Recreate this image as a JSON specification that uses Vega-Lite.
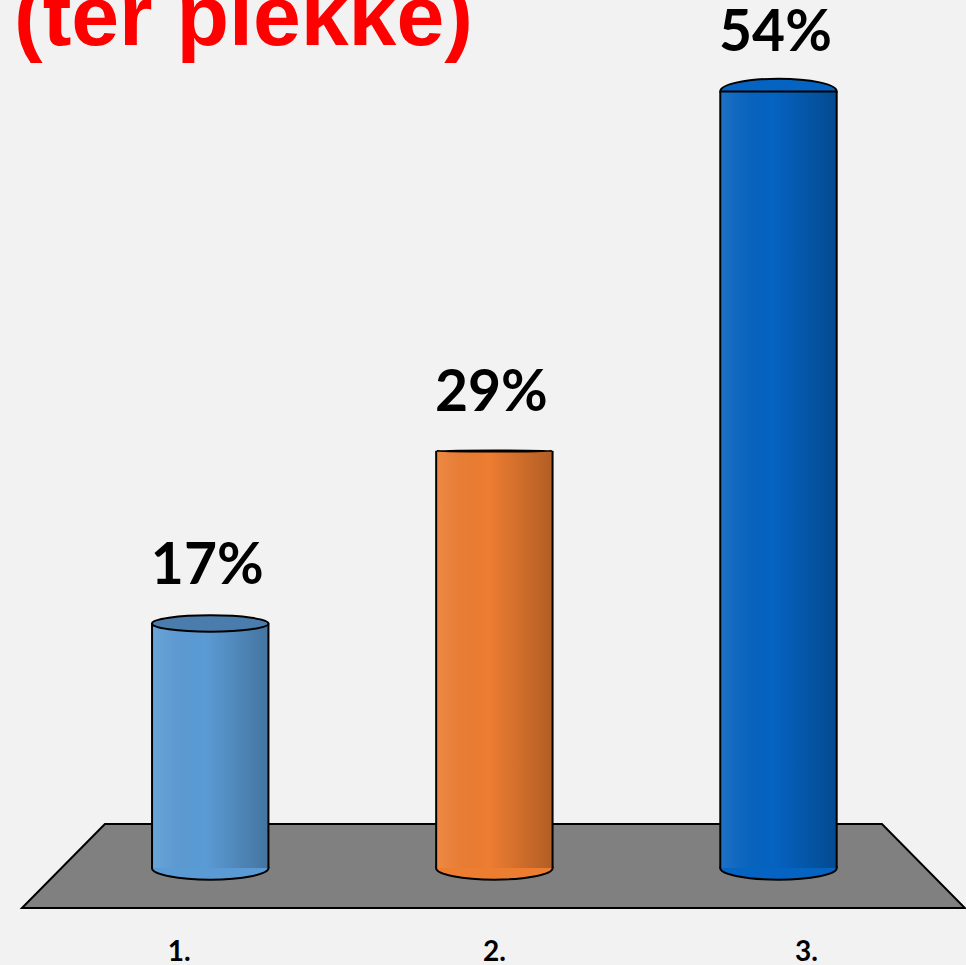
{
  "$schema": "https://vega.github.io/schema/vega-lite/v6.json",
  "width": 966,
  "height": 935,
  "autosize": "none",
  "padding": {"left": 0, "top": 0, "right": 0, "bottom": 30},
  "background": "#F2F2F2",
  "config": {"view": {"stroke": null}},
  "title": {
    "text": "(ter plekke)",
    "anchor": "start",
    "frame": "group",
    "orient": "top",
    "offset": -131,
    "baseline": "alphabetic",
    "font": "Liberation Sans",
    "fontSize": 86,
    "fontWeight": "bold",
    "color": "#FF0000",
    "dx": 14
  },
  "datasets": {
    "bars": [
      {"cat": "1.", "value": 17, "label": "17%"},
      {"cat": "2.", "value": 29, "label": "29%"},
      {"cat": "3.", "value": 54, "label": "54%"}
    ],
    "floor": [
      {"fx": 0.338, "top": -2.78, "bottom": -2.78},
      {"fx": 0.630, "top": 3.06, "bottom": -2.78},
      {"fx": 3.366, "top": 3.06, "bottom": -2.78},
      {"fx": 3.658, "top": -2.78, "bottom": -2.78}
    ]
  },
  "resolve": {"scale": {"x": "independent"}},
  "layer": [
    {
      "data": {"name": "floor"},
      "mark": {"type": "area", "fill": "#808080", "stroke": "#000000", "strokeWidth": 2, "strokeJoin": "miter"},
      "encoding": {
        "x": {"field": "fx", "type": "quantitative", "scale": {"domain": [0.2606, 3.662], "nice": false, "zero": false}, "axis": null},
        "y": {"field": "top", "type": "quantitative", "scale": {"domain": [-4.66, 60.36], "nice": false, "zero": false}, "axis": null},
        "y2": {"field": "bottom"}
      }
    },
    {
      "data": {"name": "bars"},
      "encoding": {
        "x": {
          "field": "cat",
          "type": "nominal",
          "sort": null,
          "scale": {"domain": ["1.", "2.", "3."], "paddingInner": 0, "paddingOuter": 0.2, "align": 0.6},
          "axis": {
            "orient": "bottom",
            "domain": false,
            "ticks": false,
            "tickSize": 0,
            "labelPadding": 25,
            "labelBaseline": "alphabetic",
            "labelFont": "Lato",
            "labelFontWeight": "bold",
            "labelFontSize": 28,
            "labelColor": "#000000",
            "labelAngle": 0,
            "title": null,
            "labelOffset": {"condition": [{"test": "datum.value === '1.'", "value": -31}, {"test": "datum.value === '3.'", "value": 28}], "value": 0}
          }
        }
      },
      "layer": [
        {
          "mark": {"type": "point", "filled": true, "opacity": 1, "size": 13572, "shape": "M-1,0A1,0.2,0,1,1,1,0A1,0.2,0,1,1,-1,0Z", "stroke": "#000000", "strokeWidth": 2},
          "encoding": {
            "y": {"datum": 0},
            "color": {"field": "cat", "type": "nominal", "scale": {"domain": ["1.", "2.", "3."], "range": ["#5B9BD5", "#ED7D31", "#0563C1"]}, "legend": null}
          }
        },
        {
          "mark": {"type": "bar", "width": {"band": 0.41}},
          "encoding": {
            "y": {"field": "value", "type": "quantitative"},
            "color": {"field": "cat", "type": "nominal", "legend": null}
          }
        },
        {
          "mark": {
            "type": "bar",
            "width": {"band": 0.41},
            "fill": {
              "gradient": "linear", "x1": 0, "y1": 0, "x2": 1, "y2": 0,
              "stops": [
                {"offset": 0, "color": "rgba(255,255,255,0.10)"},
                {"offset": 0.45, "color": "rgba(0,0,0,0)"},
                {"offset": 1, "color": "rgba(0,0,0,0.25)"}
              ]
            }
          },
          "encoding": {"y": {"field": "value", "type": "quantitative"}}
        },
        {
          "mark": {"type": "rule", "xOffset": -58.2, "stroke": "#000000", "strokeWidth": 2},
          "encoding": {"y": {"field": "value", "type": "quantitative"}, "y2": {"datum": 0}}
        },
        {
          "mark": {"type": "rule", "xOffset": 58.2, "stroke": "#000000", "strokeWidth": 2},
          "encoding": {"y": {"field": "value", "type": "quantitative"}, "y2": {"datum": 0}}
        },
        {
          "mark": {"type": "point", "filled": true, "opacity": 1, "size": 13572, "stroke": "#000000", "strokeWidth": 2},
          "encoding": {
            "y": {"field": "value", "type": "quantitative"},
            "fill": {"field": "cat", "type": "nominal", "scale": {"domain": ["1.", "2.", "3."], "range": ["#4A7DAE", "#D8702A", "#0563C1"]}, "legend": null},
            "shape": {"field": "cat", "type": "nominal", "scale": {"domain": ["1.", "2.", "3."], "range": ["M-1,0A1,0.14,0,1,1,1,0A1,0.14,0,1,1,-1,0Z", "M-1,0A1,0.01,0,1,1,1,0A1,0.01,0,1,1,-1,0Z", "M-1,0A1,0.22,0,0,1,1,0Z"]}, "legend": null}
          }
        },
        {
          "mark": {"type": "text", "dy": -40, "dx": -3, "baseline": "alphabetic", "font": "Lato", "fontWeight": "bold", "fontSize": 57, "color": "#000000"},
          "encoding": {
            "y": {"field": "value", "type": "quantitative"},
            "text": {"field": "label"}
          }
        }
      ]
    }
  ]
}
